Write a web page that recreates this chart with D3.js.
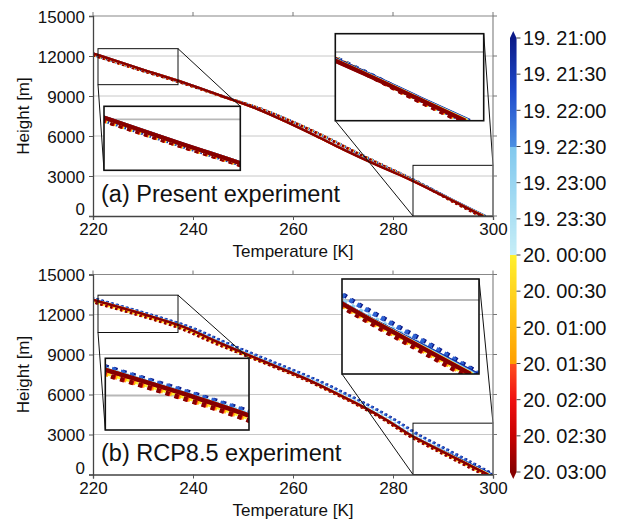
<!DOCTYPE html>
<html><head><meta charset="utf-8">
<script src="https://cdn.jsdelivr.net/npm/d3@7"></script>
<style>body{margin:0;background:#fff} svg{display:block} text{font-family:"Liberation Sans",Arial,Helvetica,sans-serif;fill:#111}</style>
</head><body><svg id="c" width="619" height="522"></svg>
<script>
// ---------------- data ----------------
const heights = [0,1000,2000,3000,4000,5000,6000,7000,8000,9000,10000,11000,12000,13000,14000];
const barLabels = ["19. 21:00","19. 21:30","19. 22:00","19. 22:30","19. 23:00","19. 23:30","20. 00:00","20. 00:30","20. 01:00","20. 01:30","20. 02:00","20. 02:30","20. 03:00"];
const lineTimeIdx = [0,2,4,6,8,10,12]; // 21:00,22:00,23:00,00:00,01:00,02:00,03:00
const xTicks = [220,240,260,280,300];
const yTicks = [0,3000,6000,9000,12000,15000];
const gridTicks = [3000,6000,9000,12000];

// (a) Present experiment
const presentSolid = [
 [298.5,293.1,287.8,282.2,276.0,270.2,264.7,259.1,253.0,245.8,238.3,229.9,221.7,213.4,205.1],
 [298.4,293.0,287.7,282.1,275.9,270.1,264.7,259.0,253.0,245.8,238.3,229.9,221.7,213.4,205.1],
 [298.3,292.9,287.6,282.0,275.8,270.1,264.6,259.0,253.0,245.7,238.2,229.8,221.6,213.3,205.0],
 [298.2,292.8,287.5,281.9,275.8,270.0,264.6,259.0,253.0,245.7,238.2,229.8,221.6,213.3,205.0],
 [298.1,292.8,287.5,281.9,275.7,270.0,264.6,259.0,253.0,245.7,238.2,229.8,221.6,213.3,205.0],
 [298.0,292.7,287.4,281.8,275.7,270.0,264.6,259.0,253.0,245.7,238.2,229.8,221.6,213.3,205.0],
 [298.0,292.7,287.4,281.8,275.7,270.0,264.6,259.0,253.0,245.7,238.2,229.8,221.6,213.3,205.0]
];
const presentDotted = [
 [297.9,292.75,287.85,282.6,276.95,271.5,266.2,260.4,253.9,245.8,237.9,229.2,220.8,212.5,204.2],
 [297.8,292.65,287.8,282.55,276.9,271.45,266.15,260.35,253.85,245.75,237.85,229.15,220.75,212.45,204.15],
 [297.7,292.55,287.7,282.5,276.85,271.4,266.1,260.3,253.8,245.7,237.8,229.1,220.7,212.4,204.1],
 [297.65,292.5,287.65,282.45,276.8,271.4,266.1,260.3,253.8,245.7,237.75,229.05,220.65,212.35,204.05],
 [297.55,292.45,287.6,282.4,276.75,271.35,266.05,260.25,253.75,245.65,237.7,229.0,220.6,212.3,204.0],
 [297.5,292.35,287.55,282.35,276.7,271.3,266.0,260.2,253.7,245.6,237.65,228.95,220.55,212.25,203.95],
 [297.4,292.3,287.5,282.3,276.7,271.3,266.0,260.2,253.7,245.6,237.6,228.9,220.5,212.2,203.9]
];
// (b) RCP8.5 experiment
const rcpSolid = [
 [299.8,294.3,288.7,283.45,279.2,274.5,269.2,263.7,257.4,250.9,244.6,238.7,230.4,221.1,211.6],
 [299.6,294.15,288.6,283.4,279.2,274.5,269.2,263.7,257.4,250.9,244.6,238.7,230.4,221.1,211.6],
 [299.4,294.0,288.55,283.4,279.2,274.5,269.2,263.7,257.4,250.9,244.6,238.7,230.4,221.1,211.6],
 [299.2,293.85,288.5,283.35,279.15,274.45,269.15,263.65,257.35,250.85,244.55,238.65,230.35,221.05,211.55],
 [299.1,293.8,288.45,283.3,279.1,274.4,269.1,263.6,257.3,250.8,244.5,238.6,230.3,221.0,211.5],
 [299.0,293.7,288.4,283.3,279.1,274.4,269.1,263.6,257.3,250.8,244.5,238.6,230.3,221.0,211.5],
 [299.0,293.7,288.4,283.3,279.1,274.4,269.1,263.6,257.3,250.8,244.5,238.6,230.3,221.0,211.5]
];
const rcpDotted = [
 [300.2,295.3,290.2,285.1,280.9,276.2,270.9,265.4,259.0,252.4,246.0,239.9,231.5,222.2,212.7],
 [300.0,295.1,290.0,284.9,280.7,276.0,270.7,265.2,258.8,252.2,245.8,239.7,231.3,222.0,212.5],
 [299.4,294.3,289.1,284.0,279.9,275.2,269.9,264.4,258.0,251.4,245.0,239.0,230.6,221.3,211.8],
 [298.6,293.4,288.2,283.2,279.1,274.4,269.1,263.5,257.1,250.5,244.0,237.9,229.4,220.0,210.5],
 [298.3,293.1,287.9,282.9,278.8,274.1,268.8,263.2,256.8,250.1,243.6,237.4,228.9,219.5,210.0],
 [298.1,292.9,287.7,282.8,278.7,274.0,268.7,263.1,256.7,250.0,243.4,237.2,228.7,219.3,209.8],
 [298.0,292.8,287.6,282.7,278.6,273.9,268.6,263.0,256.6,249.9,243.3,237.1,228.6,219.2,209.7]
];
const panelLabels = ["(a) Present experiment","(b) RCP8.5 experiment"];
// zoom windows [Tmin,Tmax,hmin,hmax]
const zoomWindows = [
 [[221,237,9850,12550],[284,300,0,3800]],
 [[221,237,10650,13450],[284,300,0,3850]]
];

// colour map (half-hour index 0..12)
const cmapDomain = [0,1.5,3,3.001,5.999,6,9,9.001,10,11,12];
const cmapColors = ["#0b1a88","#1f4bcc","#4a8fe2","#80c8ee","#c6eef7","#fff02e","#ff9f00","#ff4f1e","#f01010","#c80000","#860000"];

// ---------------- layout ----------------
const svg = d3.select("#c");
const X0 = 93, X1 = 493;
const panelsLayout = [{top:16, bot:216}, {top:274.5, bot:474.5}];
const insetBoxes = [
 [[104,106.3,240.3,170.3],[335.3,33.7,483.7,120.7]],
 [[105.3,358.3,249,430],[342,279,479,374]]
];
const connectors = [[["tr","tr"],["bl","bl"]],[["bl","bl"],["tr","tr"]]];
const color = d3.scaleLinear().domain(cmapDomain).range(cmapColors);
const fontF = '"Liberation Sans",Arial,sans-serif';

const defs = svg.append("defs");

function drawLines(g, sx, sy, solids, dotted, k){
  const line = d3.line().x(d=>sx(d[0])).y(d=>sy(d[1])).curve(d3.curveCatmullRom.alpha(0.5));
  dotted.forEach((arr,i)=>{
    g.append("path").attr("d", line(arr.map((t,j)=>[t,heights[j]])))
     .attr("fill","none").attr("stroke", color(lineTimeIdx[i]))
     .attr("stroke-width", 2.5*k).attr("stroke-dasharray", `${2.2*k} ${2.9*k}`);
  });
  solids.forEach((arr,i)=>{
    g.append("path").attr("d", line(arr.map((t,j)=>[t,heights[j]])))
     .attr("fill","none").attr("stroke", color(lineTimeIdx[i]))
     .attr("stroke-width", (i===solids.length-1?2.4:2.0)*k).attr("stroke-linejoin","round");
  });
}

const allSolid = [presentSolid, rcpSolid];
const allDotted = [presentDotted, rcpDotted];

panelsLayout.forEach((P,pi)=>{
  const x = d3.scaleLinear().domain([220,300]).range([X0,X1]);
  const y = d3.scaleLinear().domain([0,15000]).range([P.bot,P.top]);
  const g = svg.append("g");
  g.selectAll(".gr").data(gridTicks).join("line")
   .attr("x1",X0).attr("x2",X1).attr("y1",d=>y(d)).attr("y2",d=>y(d))
   .attr("stroke","#c8c8c8").attr("stroke-width",1);
  const cid = "clipP"+pi;
  defs.append("clipPath").attr("id",cid).append("rect")
   .attr("x",X0).attr("y",P.top).attr("width",X1-X0).attr("height",P.bot-P.top);
  const lg = g.append("g").attr("clip-path",`url(#${cid})`);
  drawLines(lg, x, y, allSolid[pi], allDotted[pi], 1);

  zoomWindows[pi].forEach((w,wi)=>{
    const sx0 = x(w[0]), sx1 = x(w[1]), sy0 = y(w[3]), sy1 = y(w[2]);
    g.append("rect").attr("x",sx0).attr("y",sy0).attr("width",sx1-sx0).attr("height",sy1-sy0)
     .attr("fill","none").attr("stroke","#111").attr("stroke-width",1);
    const b = insetBoxes[pi][wi];
    const corner = (c, x0,y0,x1,y1)=> c==="tr"?[x1,y0]:c==="tl"?[x0,y0]:c==="br"?[x1,y1]:[x0,y1];
    connectors[pi].forEach(c=>{
      const a = corner(c[0], sx0,sy0,sx1,sy1), bb = corner(c[1], b[0],b[1],b[2],b[3]);
      g.append("line").attr("x1",a[0]).attr("y1",a[1]).attr("x2",bb[0]).attr("y2",bb[1])
       .attr("stroke","#111").attr("stroke-width",1);
    });
    const ix = d3.scaleLinear().domain([w[0],w[1]]).range([b[0],b[2]]);
    const iy = d3.scaleLinear().domain([w[2],w[3]]).range([b[3],b[1]]);
    const k = ((b[2]-b[0])/(sx1-sx0) + (b[3]-b[1])/(sy1-sy0))/2;
    const icid = `clipI${pi}_${wi}`;
    defs.append("clipPath").attr("id",icid).append("rect")
     .attr("x",b[0]).attr("y",b[1]).attr("width",b[2]-b[0]).attr("height",b[3]-b[1]);
    const ig = g.append("g");
    ig.append("rect").attr("x",b[0]).attr("y",b[1]).attr("width",b[2]-b[0]).attr("height",b[3]-b[1]).attr("fill","#fff");
    const ic = ig.append("g").attr("clip-path",`url(#${icid})`);
    ic.selectAll(".ig").data(gridTicks.filter(t=>t>w[2]&&t<w[3])).join("line")
     .attr("x1",b[0]).attr("x2",b[2]).attr("y1",d=>iy(d)).attr("y2",d=>iy(d))
     .attr("stroke","#b8b8b8").attr("stroke-width",1.1*k);
    drawLines(ic, ix, iy, allSolid[pi], allDotted[pi], k);
    ig.append("rect").attr("x",b[0]).attr("y",b[1]).attr("width",b[2]-b[0]).attr("height",b[3]-b[1])
     .attr("fill","none").attr("stroke","#111").attr("stroke-width",1.6);
  });

  g.append("line").attr("x1",X0).attr("x2",X1).attr("y1",P.top).attr("y2",P.top).attr("stroke","#888").attr("stroke-width",1.2);
  g.append("line").attr("x1",X1).attr("x2",X1).attr("y1",P.top).attr("y2",P.bot).attr("stroke","#888").attr("stroke-width",1.2);
  const ax = g.append("g").attr("transform",`translate(0,${P.bot})`)
    .call(d3.axisBottom(x).tickValues(xTicks).tickFormat(d3.format("d")).tickSize(4).tickPadding(2));
  const ay = g.append("g").attr("transform",`translate(${X0},0)`)
    .call(d3.axisLeft(y).tickValues(yTicks).tickFormat(d3.format("d")).tickSize(4).tickPadding(4));
  [ax,ay].forEach(a=>{
    a.select(".domain").attr("stroke","#444").attr("stroke-width",1.3);
    a.selectAll(".tick line").attr("stroke","#555");
    a.selectAll("text").attr("font-family",fontF).attr("font-size",17).attr("fill","#111");
  });
  ax.selectAll("text").attr("dy",null).attr("y",19).attr("dominant-baseline","auto");
  ay.selectAll("text").attr("dy",d=>d===0?"-0.06em":"0.36em");
  g.selectAll(".tt").data(xTicks).join("line").attr("x1",d=>x(d)).attr("x2",d=>x(d))
   .attr("y1",P.top).attr("y2",P.top-4).attr("stroke","#777");
  g.selectAll(".rt").data(yTicks).join("line").attr("x1",X1).attr("x2",X1+4)
   .attr("y1",d=>y(d)).attr("y2",d=>y(d)).attr("stroke","#777");

  g.append("text").attr("x",(X0+X1)/2).attr("y",P.bot+41).attr("text-anchor","middle")
   .attr("font-size",17).text("Temperature [K]");
  g.append("text").attr("transform",`translate(23,${(P.top+P.bot)/2}) rotate(-90)`)
   .attr("text-anchor","middle").attr("dominant-baseline","central").attr("font-size",17).text("Height [m]");
  g.append("text").attr("x",101).attr("y",P.bot-14).attr("font-size",23.5).text(panelLabels[pi]);
});

// ---------------- colour bar ----------------
const cb = svg.append("g");
const cbX = 510, cbW = 6.5;
const cy = d3.scaleLinear().domain([0,12]).range([38,472]);
d3.range(0,434).forEach(i=>{
  const yy = 38+i;
  cb.append("rect").attr("x",cbX).attr("y",yy).attr("width",cbW).attr("height",1.2)
    .attr("fill",color(cy.invert(yy+0.5)));
});
cb.append("path").attr("d",`M${cbX},38 L${cbX+cbW},38 L${cbX+cbW/2},31 Z`).attr("fill",color(0));
cb.append("path").attr("d",`M${cbX},472 L${cbX+cbW},472 L${cbX+cbW/2},479 Z`).attr("fill",color(12));
cb.selectAll(".cbt").data(barLabels).join("line")
  .attr("x1",cbX+cbW).attr("x2",cbX+cbW+4).attr("y1",(d,i)=>cy(i)).attr("y2",(d,i)=>cy(i))
  .attr("stroke","#444").attr("stroke-width",1);
cb.selectAll(".cbl").data(barLabels).join("text")
  .attr("x",523).attr("y",(d,i)=>cy(i)).attr("dy","0.36em")
  .attr("font-size",20).text(d=>d);
</script></body></html>
